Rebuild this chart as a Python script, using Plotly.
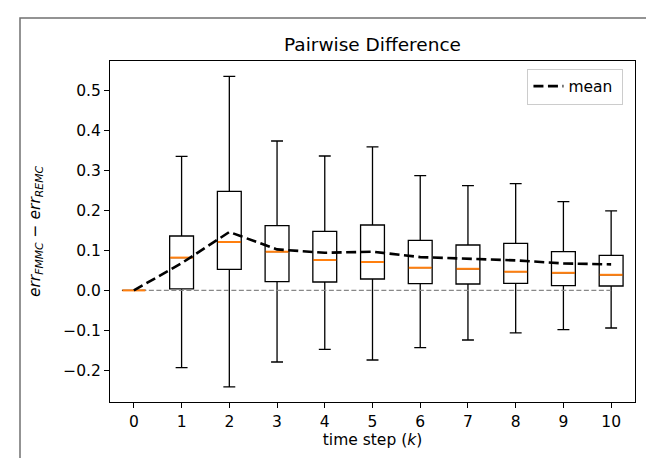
import plotly.graph_objects as go

steps = [0, 1, 2, 3, 4, 5, 6, 7, 8, 9, 10]
whisk_low = [0.0, -0.193, -0.241, -0.179, -0.1475, -0.174, -0.143, -0.124, -0.106, -0.098, -0.094]
q1 = [0.0, 0.004, 0.0525, 0.0217, 0.021, 0.0285, 0.0167, 0.016, 0.0175, 0.0117, 0.011]
medians = [0.0, 0.082, 0.121, 0.0967, 0.076, 0.071, 0.0567, 0.054, 0.0467, 0.044, 0.039]
q3 = [0.0, 0.136, 0.2475, 0.162, 0.1475, 0.1635, 0.125, 0.1135, 0.1175, 0.097, 0.0875]
whisk_high = [0.0, 0.335, 0.535, 0.3735, 0.336, 0.359, 0.287, 0.262, 0.267, 0.222, 0.199]
means = [0.0, 0.068, 0.146, 0.1025, 0.094, 0.0967, 0.0833, 0.0783, 0.075, 0.0675, 0.065]

box_width = 0.5

fig = go.Figure()

# zero reference line
fig.add_trace(go.Scatter(
    x=[steps[0], steps[-1]], y=[0, 0], mode="lines",
    line=dict(color="#888888", width=1.4, dash="5px,2.5px"),
    showlegend=False, hoverinfo="skip"))

fig.add_trace(go.Box(
    x=steps, q1=q1, median=medians, q3=q3,
    lowerfence=whisk_low, upperfence=whisk_high,
    width=box_width, whiskerwidth=0.5,
    line=dict(color="black", width=1.3),
    fillcolor="rgba(255,255,255,0)",
    boxpoints=False, showlegend=False, hoverinfo="skip"))

# orange median segments
mx, my = [], []
for s, m in zip(steps, medians):
    mx += [s - box_width / 2 + 0.01, s + box_width / 2 - 0.01, None]
    my += [m, m, None]
fig.add_trace(go.Scatter(
    x=mx, y=my, mode="lines",
    line=dict(color="#ff7f0e", width=2.0),
    showlegend=False, hoverinfo="skip"))

fig.add_trace(go.Scatter(
    x=steps, y=means, mode="lines", name="mean ",
    line=dict(color="black", width=2.6, dash="10px,4.5px")))

L, R, T, B = 102, 27, 53, 64
W, H = 654, 458
pw, ph = W - L - R, H - T - B

FONT = "DejaVu Sans"
tickfont = dict(family=FONT, size=15.5, color="black")
labfont = dict(family=FONT, size=15.5, color="black")

fig.update_layout(
    template="none",
    width=W, height=H,
    margin=dict(l=L, r=R, t=T, b=B, autoexpand=False),
    paper_bgcolor="white", plot_bgcolor="white",
    font=dict(family=FONT, size=15.5, color="black"),
    title=dict(text="Pairwise Difference", x=(L + pw / 2) / W, xanchor="center",
               y=1 - 37 / H, yanchor="middle",
               font=dict(family=FONT, size=18.5, color="black")),
    legend=dict(x=0.978, y=0.978, xanchor="right", yanchor="top",
                bordercolor="#cccccc", borderwidth=1, bgcolor="rgba(255,255,255,0.8)",
                font=dict(family=FONT, size=15.5, color="black")),
    xaxis=dict(range=[-0.5, 10.5], tickvals=steps, ticktext=[str(s) for s in steps],
               showgrid=False, zeroline=False, showline=True, mirror=True,
               linecolor="black", linewidth=1.2, ticks="outside", ticklen=5,
               tickcolor="black", tickwidth=1.1, tickfont=tickfont,
               title=dict(text="time step (<i>k</i>)", standoff=3, font=labfont)),
    yaxis=dict(range=[-0.279, 0.5735], dtick=0.1, tick0=0, tickformat=".1f",
               showgrid=False, zeroline=False, showline=True, mirror=True,
               linecolor="black", linewidth=1.2, ticks="outside", ticklen=5,
               tickcolor="black", tickwidth=1.1, tickfont=tickfont,
               title=dict(text="<i>err</i><sub><i>FMMC</i></sub> − <i>err</i><sub><i>REMC</i></sub>",
                          standoff=18, font=labfont)),
    shapes=[dict(type="rect", xref="paper", yref="paper",
                 x0=(12 - L) / pw, x1=1.3, y0=-0.5, y1=(H - B - 10) / ph,
                 line=dict(color="#707070", width=1.5), layer="below")],
)

fig.write_html("out.html")
